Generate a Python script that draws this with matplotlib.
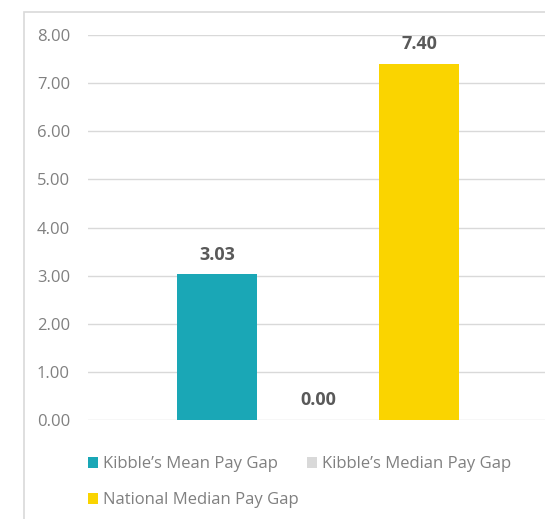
import matplotlib.pyplot as plt
from matplotlib.patches import Rectangle

plt.rcParams['font.family'] = ['Open Sans', 'DejaVu Sans']

# dados do gráfico
series = ['Kibble\u2019s Mean Pay Gap', 'Kibble\u2019s Median Pay Gap', 'National Median Pay Gap']
values = [3.03, 0.00, 7.40]
colors = ['#1AA7B6', '#D9D9D9', '#FAD400']
yticks = [0, 1, 2, 3, 4, 5, 6, 7, 8]

W, H = 545, 519
fig = plt.figure(figsize=(W / 100, H / 100), dpi=100)

# moldura cinza clara
fig.patches.append(Rectangle((24 / W, -0.1), 1.2, 1 - 12 / H + 0.1, transform=fig.transFigure,
                             fill=False, edgecolor='#D9D9D9', linewidth=1.2))

ax = fig.add_axes([88 / W, 1 - 420 / H, (548 - 88) / W, (420 - 35) / H])

pos = [-1.01, 0, 1.01]
bars = []
for p, v, c, s in zip(pos, values, colors, series):
    b = ax.bar(p, v, width=0.8, color=c, label=s, zorder=3)
    bars.append(b)
    ax.text(p, v + 0.22, f'{v:.2f}', ha='center', va='bottom', fontsize=13,
            fontweight='bold', color='#595959', clip_on=False)

ax.set_xlim(-2.3, 2.3)
ax.set_ylim(0, 8)
ax.set_yticks(yticks)
ax.set_yticklabels([f'{t:.2f}' for t in yticks], fontsize=12, color='#808080')
ax.set_xticks([])
ax.tick_params(axis='y', length=0, pad=13)
ax.grid(axis='y', color='#D9D9D9', linewidth=1, zorder=0)
for sp in ax.spines.values():
    sp.set_visible(False)

handles = [bars[0], bars[2], bars[1]]
labels = [series[0], series[2], series[1]]
fig.legend(handles, labels, ncol=2, loc='upper left', bbox_to_anchor=(73 / W, 1 - 441.5 / H),
           frameon=False, fontsize=12, handlelength=0.6, handleheight=0.6,
           handletextpad=0.3, columnspacing=0.5, labelspacing=1.2, labelcolor='#808080')

plt.savefig('out.png', dpi=100)
